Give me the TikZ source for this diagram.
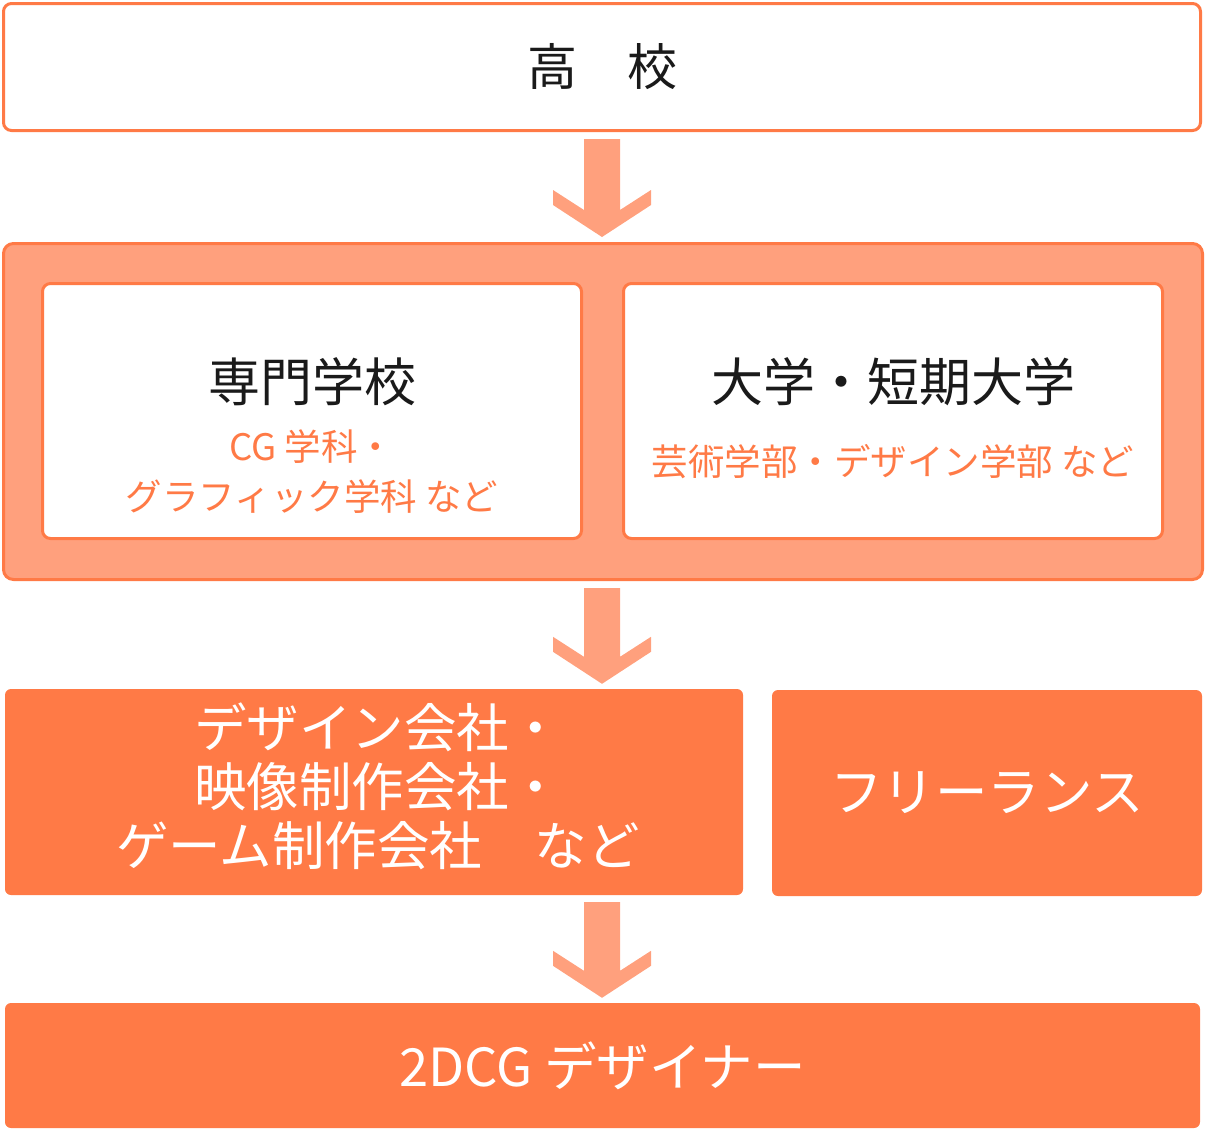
\documentclass[tikz,border=0pt]{standalone}
\usepackage{fontspec}
\setmainfont{Noto Sans CJK JP}
\usepackage{tikz}
\usetikzlibrary{calc}

\definecolor{mainorange}{HTML}{FF7A46}
\definecolor{lightorange}{HTML}{FFA07D}
\definecolor{inkblack}{HTML}{1A1A1A}

\tikzset{
  linebox/.style={draw=mainorange, line width=3pt, rounded corners=8pt, inner sep=0pt},
  whitebox/.style={linebox, fill=white},
  softbox/.style={linebox, fill=lightorange, rounded corners=10pt},
  solidbox/.style={fill=mainorange, rounded corners=6pt, inner sep=0pt, text=white,
    font=\fontsize{52.5}{59}\selectfont, align=center},
  bigtext/.style={text=inkblack, font=\fontsize{52}{60}\selectfont, inner sep=0pt},
  subtext/.style={text=mainorange, font=\fontsize{36.5}{50}\selectfont, inner sep=0pt, align=center},
  blockarr/.style={fill=lightorange}
}

% block arrow down the middle, from box #1 to box #2
\newcommand\downblock[2]{%
  \fill[blockarr] let \p1=(top.south |- #1.south), \p2=(top.south |- #2.north) in
    (\x1-18pt,\y1-7pt) -- (\x1+18pt,\y1-7pt) -- (\x2+18pt,\y2+32pt)
    -- (\x2+49pt,\y2+52pt) -- (\x2+49pt,\y2+37pt) -- (\x2,\y2+5pt)
    -- (\x2-49pt,\y2+37pt) -- (\x2-49pt,\y2+52pt) -- (\x2-18pt,\y2+32pt) -- cycle;}

\begin{document}
\begin{tikzpicture}[x=1pt,y=-1pt]
    \useasboundingbox (0,0) rectangle (1207,1133);

    \node[whitebox, minimum width=1197pt, minimum height=127pt] (top) at (602,67) {};
    \node[bigtext, font=\fontsize{50}{60}\selectfont] (toptxt) at (top) {高　校};

    \node[softbox, minimum width=1199pt, minimum height=336pt] (mid) at (603,411.5) {};
    \node[whitebox, minimum width=539pt, minimum height=255pt] (sen) at (312,411) {};
    \node[whitebox, minimum width=539pt, minimum height=255pt] (dai) at (893,411) {};
    \node[bigtext] (sentxt) at (312,382) {専門学校};
    \node[subtext] (sensub) at (312,472) {CG 学科・\\グラフィック学科 など};
    \node[bigtext] (daitxt) at (893,382) {大学・短期大学};
    \node[subtext] (daisub) at (893,462) {芸術学部・デザイン学部 など};

    \node[solidbox, minimum width=738pt, minimum height=206pt] (co) at (374,792) {};
    \node[solidbox] (cotxt) at (378,786) {デザイン会社・\\映像制作会社・\\ゲーム制作会社　など};
    \node[solidbox, minimum width=430pt, minimum height=206pt] (fr) at (987,793) {フリーランス};

    \node[solidbox, minimum width=1195pt, minimum height=125pt] (dz) at (602.5,1065.5) {2DCG デザイナー};

    \downblock{top}{mid}
    \downblock{mid}{co}
    \downblock{co}{dz}
\end{tikzpicture}
\end{document}
